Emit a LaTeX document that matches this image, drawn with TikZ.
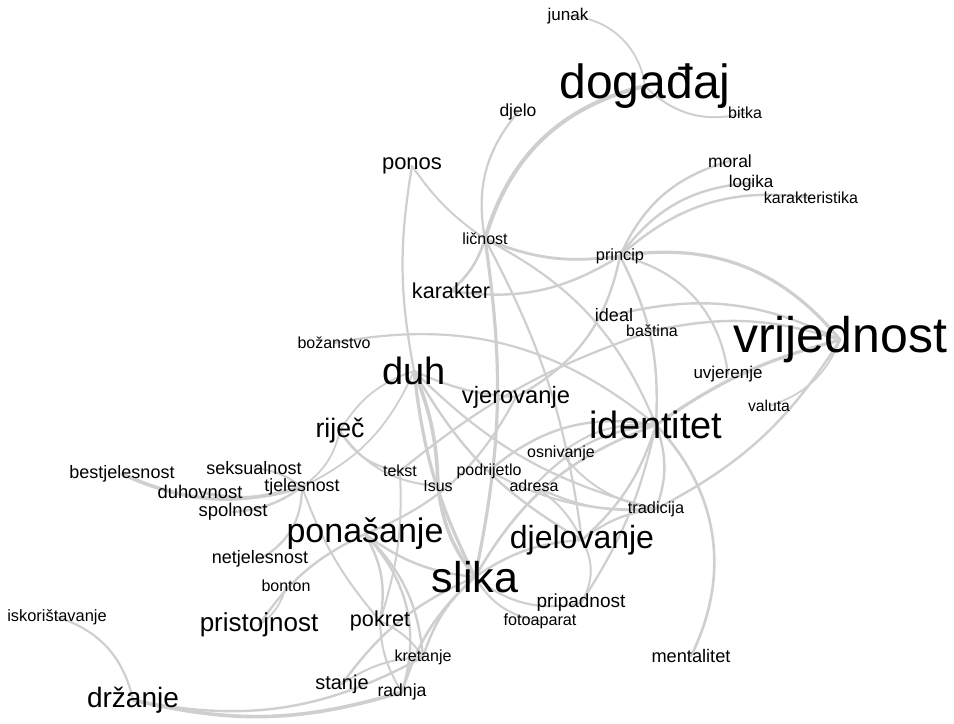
\documentclass[tikz,border=0pt]{standalone}
\usepackage{fontspec}
\setmainfont{Liberation Sans}
\usetikzlibrary{backgrounds}
\tikzset{
	word/.style={
		inner sep=0pt,
		text=black,
		font=\fontsize{#1}{#1}\selectfont
	},
	link/.style={
		draw=black!19,
		line cap=round
	},
}

\begin{document}
\begin{tikzpicture}[x=1bp, y=-1bp]

\useasboundingbox (0,0) rectangle (954,724);

% words
\node [word=17bp] (junak) at (568,16) {junak};
\node [word=48bp] (dogadjaj) at (645,86) {događaj};
\node [word=16bp] (bitka) at (745,113) {bitka};
\node [word=17.5bp] (djelo) at (518,112) {djelo};
\node [word=22bp] (ponos) at (412,166) {ponos};
\node [word=17.5bp] (moral) at (730,161) {moral};
\node [word=17bp] (logika) at (751,183) {logika};
\node [word=16bp] (karakteristika) at (811,198) {karakteristika};
\node [word=16bp] (licnost) at (485,239) {ličnost};
\node [word=16.3bp] (princip) at (620,256) {princip};
\node [word=21.6bp] (karakter) at (451,291) {karakter};
\node [word=18bp] (ideal) at (614,315) {ideal};
\node [word=16bp] (bastina) at (652,331) {baština};
\node [word=50bp] (vrijednost) at (840,340) {vrijednost};
\node [word=16bp] (bozanstvo) at (334,343) {božanstvo};
\node [word=38bp] (duh) at (414,371) {duh};
\node [word=17bp] (uvjerenje) at (728,374) {uvjerenje};
\node [word=23.7bp] (vjerovanje) at (516,397) {vjerovanje};
\node [word=15.7bp] (valuta) at (769,406) {valuta};
\node [word=26.7bp] (rijec) at (340,431) {riječ};
\node [word=38bp] (identitet) at (656,425) {identitet};
\node [word=16bp] (osnivanje) at (561,453) {osnivanje};
\node [word=18bp] (bestjelesnost) at (122,474) {bestjelesnost};
\node [word=18bp] (seksualnost) at (254,468) {seksualnost};
\node [word=16bp] (tekst) at (400,471) {tekst};
\node [word=16bp] (podrijetlo) at (489,471) {podrijetlo};
\node [word=16bp] (Isus) at (438,486) {Isus};
\node [word=16bp] (adresa) at (534,486) {adresa};
\node [word=18.4bp] (duhovnost) at (200,492) {duhovnost};
\node [word=17.8bp] (tjelesnost) at (302,487) {tjelesnost};
\node [word=18.5bp] (spolnost) at (233,512) {spolnost};
\node [word=16.3bp] (tradicija) at (656,509) {tradicija};
\node [word=34bp] (ponasanje) at (365,534) {ponašanje};
\node [word=32bp] (djelovanje) at (582,540) {djelovanje};
\node [word=18bp] (netjelesnost) at (260,559) {netjelesnost};
\node [word=43bp] (slika) at (475,577) {slika};
\node [word=16bp] (bonton) at (286,586) {bonton};
\node [word=19bp] (pripadnost) at (581,603) {pripadnost};
\node [word=26bp] (pristojnost) at (259,625) {pristojnost};
\node [word=16.4bp] (iskoristavanje) at (57,617) {iskorištavanje};
\node [word=21.6bp] (pokret) at (380,621) {pokret};
\node [word=16.2bp] (fotoaparat) at (540,621) {fotoaparat};
\node [word=16bp] (kretanje) at (423,657) {kretanje};
\node [word=18.2bp] (mentalitet) at (691,656) {mentalitet};
\node [word=20bp] (stanje) at (342,684) {stanje};
\node [word=17.6bp] (radnja) at (402,692) {radnja};
\node [word=28bp] (drzanje) at (133,700) {držanje};

% links, under the words
\begin{scope}[on background layer]
\fill [white] (0,0) rectangle (954,724);
\foreach \a/\b/\w/\c in {
	junak/dogadjaj/1.8/40, dogadjaj/bitka/2/-30,
	licnost/dogadjaj/4/30, licnost/djelo/2.2/25,
	ponos/licnost/2/-10, ponos/duh/2.2/-10,
	licnost/princip/2.8/-15, licnost/karakter/2.6/15,
	licnost/slika/3.2/10, licnost/identitet/2.2/20,
	licnost/djelovanje/2.2/10,
	princip/moral/2.4/25, princip/logika/2.4/25,
	princip/karakteristika/2.4/25, princip/vrijednost/3.2/30,
	princip/karakter/2.4/20, princip/identitet/2.4/15,
	princip/vjerovanje/2.4/25, princip/uvjerenje/2.2/35,
	vrijednost/ideal/2.4/-20, vrijednost/bastina/2.4/-15,
	vrijednost/identitet/3.2/-10, vrijednost/tradicija/2.4/15,
	vrijednost/valuta/1.8/25, bastina/tekst/2.2/-10,
	identitet/osnivanje/2/-20, identitet/podrijetlo/2.4/-25,
	identitet/adresa/2.2/-20, identitet/tradicija/2.4/20,
	identitet/djelovanje/2.4/15, identitet/mentalitet/2.6/35,
	identitet/slika/2.6/-20, identitet/pripadnost/2.2/10,
	bozanstvo/identitet/2.2/25,
	duh/rijec/1.8/-20, duh/tjelesnost/1.8/20,
	duh/Isus/3.6/10, duh/vjerovanje/2.2/-10,
	duh/slika/3.2/-10, duh/djelovanje/2.4/-15,
	duh/tradicija/2.2/-15,
	rijec/tekst/2/-25, rijec/Isus/2/-25,
	rijec/tjelesnost/1.8/20,
	tjelesnost/bestjelesnost/3.6/20, tjelesnost/duhovnost/3/15,
	tjelesnost/spolnost/2.4/15, tjelesnost/seksualnost/2/-15,
	tjelesnost/netjelesnost/2.2/30, tjelesnost/pokret/2/-10,
	ponasanje/pristojnost/2.4/-15, pristojnost/bonton/1.8/-20,
	ponasanje/pokret/2.4/20, ponasanje/slika/2.4/-15,
	ponasanje/kretanje/2.4/20, ponasanje/radnja/2.4/30,
	ponasanje/vjerovanje/2.2/-20,
	Isus/slika/3.6/-15, tekst/pokret/2/10,
	podrijetlo/tradicija/2/-15, adresa/tradicija/2.2/-15,
	osnivanje/tradicija/2/-20, adresa/djelovanje/2/15,
	slika/fotoaparat/2/-25, slika/djelovanje/2.4/15,
	slika/pripadnost/2.2/-25, slika/kretanje/2.4/-15,
	slika/radnja/2.6/-15, slika/stanje/2.4/-15,
	djelovanje/pripadnost/2/30, djelovanje/tradicija/2.2/15,
	drzanje/iskoristavanje/2.2/-30, drzanje/radnja/3.6/-15,
	drzanje/kretanje/2.4/-20, stanje/kretanje/2/15,
	pokret/kretanje/2/15, pokret/radnja/2/-15}
	\draw [link, line width=\w bp] (\a.center) to [bend left=\c] (\b.center);
\end{scope}

\end{tikzpicture}
\end{document}
